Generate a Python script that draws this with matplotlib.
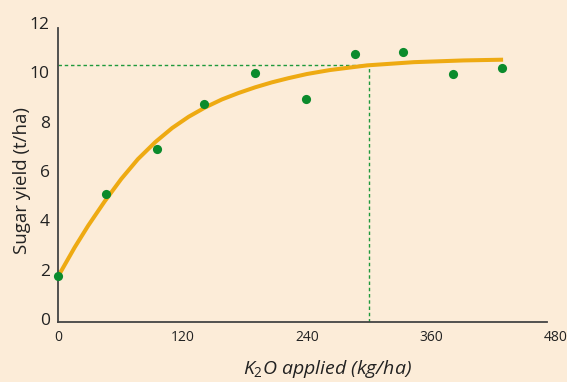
import numpy as np
import matplotlib.pyplot as plt

plt.rcParams['font.family'] = ['Open Sans', 'DejaVu Sans']
plt.rcParams['mathtext.fontset'] = 'custom'
plt.rcParams['mathtext.it'] = 'Open Sans:italic'
plt.rcParams['mathtext.rm'] = 'Open Sans'

# observed yields
k2o = [0, 46, 95, 141, 190, 239, 286, 333, 381, 428]
sugar = [1.74, 5.05, 6.9, 8.7, 9.98, 8.92, 10.75, 10.83, 9.93, 10.19]

# fitted response curve
curve_x = [0, 16, 29, 45, 61, 77, 94, 110, 126, 142, 158, 174, 190, 206, 222,
           240, 262, 298, 343, 391, 429]
curve_y = [1.72, 2.90, 3.78, 4.77, 5.68, 6.48, 7.18, 7.74, 8.20, 8.58, 8.90,
           9.16, 9.39, 9.59, 9.76, 9.93, 10.09, 10.28, 10.41, 10.48, 10.51]

optimum_x = 300
optimum_y = 10.3

xticks = [0, 120, 240, 360, 480]
yticks = [0, 2, 4, 6, 8, 10, 12]

bg = '#fcecd8'
fig = plt.figure(figsize=(5.67, 3.82), dpi=100, facecolor=bg)
ax = fig.add_axes([0.1023, 0.157, 0.8783, 0.783], facecolor=bg)

ax.plot([0, optimum_x], [optimum_y, optimum_y], color='#1f9a3c', lw=1.0,
        dashes=(2.5, 2), zorder=1)
ax.plot([optimum_x, optimum_x], [-0.12, optimum_y], color='#1f9a3c', lw=1.0,
        dashes=(2.5, 2), zorder=1)
ax.plot(curve_x, curve_y, color='#eeaa12', lw=2.9, solid_capstyle='butt',
        solid_joinstyle='round', zorder=2)
ax.plot(k2o, sugar, 'o', color='#0b8b2c', ms=6.6, mec='none', zorder=3, clip_on=False)

ax.set_xlim(0, 480)
ax.set_ylim(-0.12, 12)
ax.set_xticks(xticks)
ax.set_yticks(yticks)
ax.tick_params(axis='both', length=0, colors='#222222')
ax.tick_params(axis='x', labelsize=10, pad=6)
ax.tick_params(axis='y', labelsize=12.5, pad=6)

for s in ['top', 'right']:
    ax.spines[s].set_visible(False)
ax.spines['left'].set_bounds(-0.12, 11.8)
ax.spines['bottom'].set_bounds(0, 471)
for s in ['left', 'bottom']:
    ax.spines[s].set_color('#444444')
    ax.spines[s].set_linewidth(1.3)

fig.text(22 / 567, 1 - 181 / 382, 'Sugar yield (t/ha)', fontsize=13.5,
         color='#222222', rotation=90, ha='center', va='center')
fig.text(327 / 567, 1 - 369 / 382, '$K_2O$ applied (kg/ha)', fontsize=14,
         style='italic', color='#222222', ha='center', va='center')

plt.savefig('out.png', dpi=100, facecolor=bg)
